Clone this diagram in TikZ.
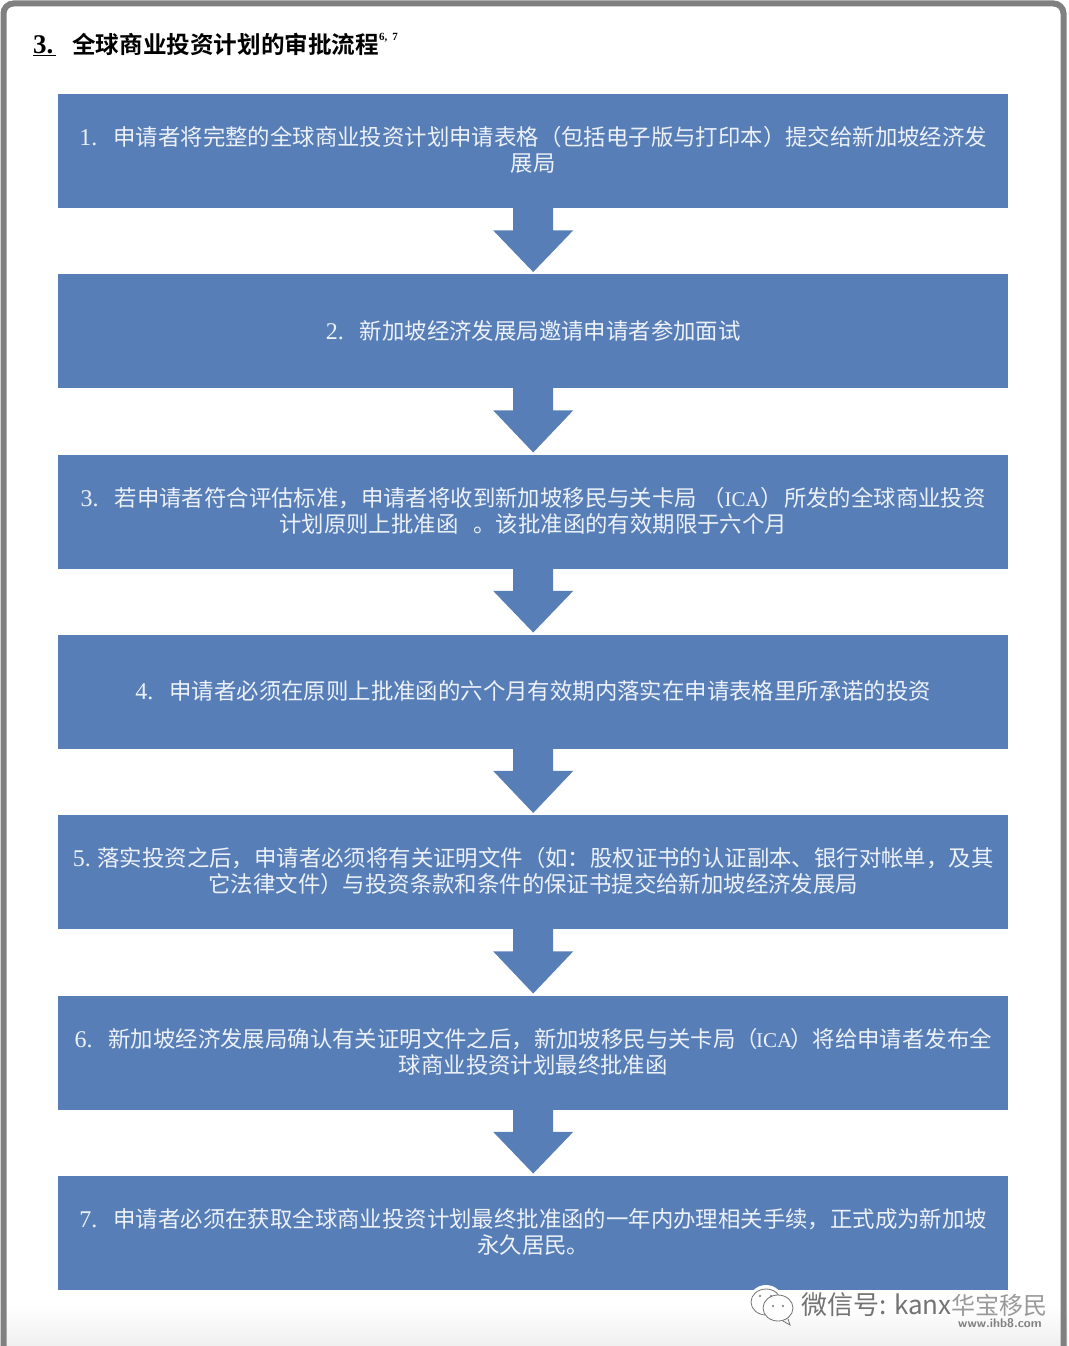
\documentclass[tikz,border=0pt]{standalone}
\usepackage{fontspec}
\usetikzlibrary{calc}
\setmainfont{Liberation Serif}
\newfontfamily\cjk{Noto Sans CJK SC}
\newfontfamily\cjkl{Noto Sans CJK SC}[BoldFont={Noto Sans CJK SC Bold}]
\definecolor{boxblue}{RGB}{88,126,183}
\definecolor{frameg}{RGB}{128,128,128}
\definecolor{boxtext}{RGB}{236,241,248}
\newcommand{\gapx}[1]{\hspace*{#1pt}}
\tikzset{
  x=1pt,y=-1pt,
  stepbox/.style={fill=boxblue,draw=none,inner sep=0pt,minimum width=950pt,minimum height=114pt,
    text=boxtext,align=center,anchor=north west,font=\fontsize{22.4pt}{26pt}\selectfont\cjk},
  flowarrow/.style={fill=boxblue,draw=none},
  wm/.style={inner sep=0pt,anchor=west,text=black!55}
}
\newcommand{\flowdown}[2]{%
  \path[flowarrow] ($(#1.south)+(-20,-1)$) -- ++(0,23) -- ++(-20,0)
    -- ($(#2.north)+(0,-2)$) -- ($(#1.south)+(40,22)$) -- ++(-20,0)
    -- ($(#1.south)+(20,-1)$) -- cycle;}
\newcommand{\lat}[1]{{\rmfamily\fontsize{24pt}{26pt}\selectfont #1}}
\newcommand{\ica}{{\rmfamily\fontsize{21pt}{26pt}\selectfont ICA}}
\begin{document}
\begin{tikzpicture}
\useasboundingbox (0,0) rectangle (1068,1346);
\fill[white] (0,0) rectangle (1068,1346);
\shade[top color=white,bottom color=black!6] (0,1305) rectangle (1068,1346);
\draw[frameg,line width=6pt,rounded corners=10pt] (3.5,1346) -- (3.5,3.5) -- (1063.5,3.5) -- (1063.5,1346);

\node[inner sep=0pt,anchor=base west,font=\fontsize{27pt}{28pt}\selectfont\bfseries] (num) at (33,53) {\underline{3.\gapx{3}}};
\node[inner sep=0pt,anchor=base west,font=\fontsize{23.6pt}{26pt}\selectfont\cjkl\bfseries] (title) at (72,53) {全球商业投资计划的审批流程};
\node[inner sep=0pt,anchor=base west,font=\fontsize{11pt}{12pt}\selectfont\bfseries] (sup) at (379,41) {6,\gapx{5}7};

\node[stepbox] (b1) at (58,94) {\lat{1.}\gapx{16}申请者将完整的全球商业投资计划申请表格（包括电子版与打印本）提交给新加坡经济发\\展局\\[-22pt]};
\node[stepbox] (b2) at (58,274) {\lat{2.}\gapx{16}新加坡经济发展局邀请申请者参加面试\\[-24pt]};
\node[stepbox] (b3) at (58,454.5) {\lat{3.}\gapx{16}若申请者符合评估标准，申请者将收到新加坡移民与关卡局 （\ica）\gapx{1}所发的全球商业投资\\计划原则上批准函\gapx{10} 。该批准函的有效期限于六个月\\[-22pt]};
\node[stepbox] (b4) at (58,634.5) {\lat{4.}\gapx{16}申请者必须在原则上批准函的六个月有效期内落实在申请表格里所承诺的投资\\[-23pt]};
\node[stepbox] (b5) at (58,815) {\lat{5.} 落实投资之后，申请者必须将有关证明文件（如：股权证书的认证副本、银行对帐单，及其\\它法律文件）与投资条款和条件的保证书提交给新加坡经济发展局\\[-22pt]};
\node[stepbox] (b6) at (58,995.5) {\lat{6.}\gapx{16}新加坡经济发展局确认有关证明文件之后，新加坡移民与关卡局（\gapx{-2}\ica\gapx{-2}）将给申请者发布全\\球商业投资计划最终批准函\\[-22pt]};
\node[stepbox] (b7) at (58,1175.5) {\lat{7.}\gapx{16}申请者必须在获取全球商业投资计划最终批准函的一年内办理相关手续，正式成为新加坡\\永久居民。\\[-22pt]};

\flowdown{b1}{b2}
\flowdown{b2}{b3}
\flowdown{b3}{b4}
\flowdown{b4}{b5}
\flowdown{b5}{b6}
\flowdown{b6}{b7}

% watermark
\fill[white] (766,1301) ellipse (17 and 16);
\draw[black!55,line width=.8pt,fill=white] (766,1302) ellipse (15 and 13);
\draw[black!55,line width=.8pt,fill=white] (778,1308) ellipse (15 and 13);
\draw[black!55,line width=.8pt] (788,1319) -- (790,1325) -- (783,1321);
\fill[black!55] (760,1296) circle (1.2) (771,1296) circle (1.2) (773,1306) circle (1.2) (783,1306) circle (1.2);
\node[wm,font=\fontsize{26pt}{28pt}\selectfont\cjk] (wx) at (801,1305) {微信号: kanx};
\node[wm,text=black!40,font=\fontsize{24pt}{26pt}\selectfont\cjk] (hb) at (951,1305) {华宝移民};
\node[wm,text=black!50,font=\fontsize{12.5pt}{14pt}\selectfont\bfseries\sffamily] (www) at (958,1323) {www.ihb8.com};
\end{tikzpicture}
\end{document}
